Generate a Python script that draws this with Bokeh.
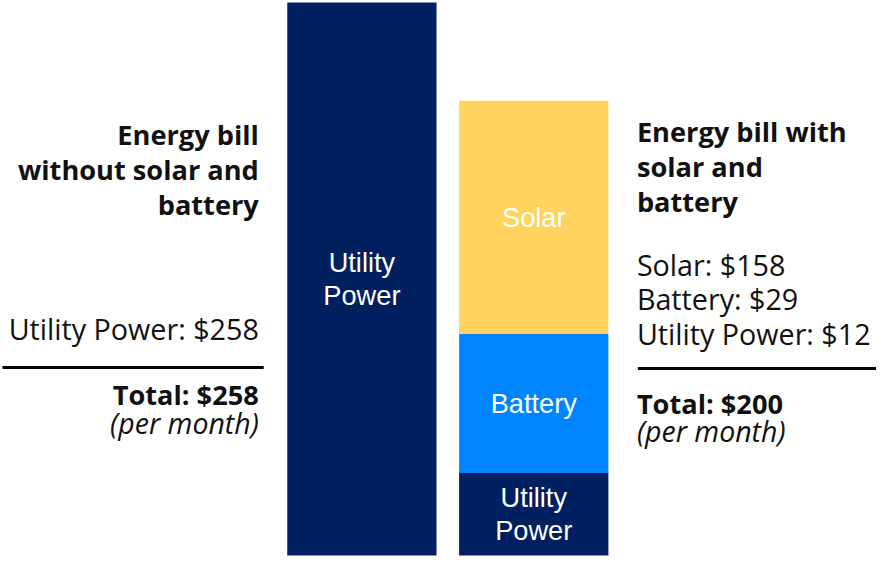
import numpy as np
from bokeh.plotting import figure
from bokeh.models import Range1d
from bokeh.core.properties import value
from bokeh.embed import file_html
from bokeh.resources import INLINE

# ---------------- data ----------------
categories = ["Without solar and battery", "With solar and battery"]
segments = ["Utility Power", "Battery", "Solar"]
# displayed segment heights as drawn in the picture (arbitrary units)
height_without = [258.0, 0.0, 0.0]
height_with = [38.5, 64.8, 108.8]
# dollar amounts per month
cost_without = [258]
cost_with = [158, 29, 12]          # Solar, Battery, Utility Power
cost_with_names = ["Solar", "Battery", "Utility Power"]
total_without = 258
total_with = 200
colors = ["#012060", "#0085FF", "#FFD35E"]
bar_labels = ["Utility\nPower", "Battery", "Solar"]

# ---------------- layout helpers (reference frame 892x572) ----------------
W, H = 876, 556
RW, RH = 892, 572
SY = H / RH
UNIT_PX = 175.0          # px between bar centres in the reference frame
Y_PX = 569.0 / 258.0     # px per height unit
X0, Y0 = 368.0, 571.0    # first bar centre / bar baseline in reference px

def X(px):
    return (px - X0) / UNIT_PX

def Y(py):
    return (Y0 - py) / Y_PX

def fs(px):
    return f"{px * SY:.1f}px"

p = figure(width=W, height=H, output_backend="svg", toolbar_location=None,
           x_range=Range1d(X(0), X(RW)), y_range=Range1d(Y(RH), Y(0)),
           min_border=0, outline_line_color=None,
           x_axis_location=None, y_axis_location=None)
p.xgrid.visible = False
p.ygrid.visible = False
p.background_fill_color = "white"
p.border_fill_color = "white"

bar_w = 152.0 / UNIT_PX
for i, heights in enumerate([height_without, height_with]):
    h = np.array(heights)
    tops = np.cumsum(h)
    bottoms = tops - h
    for j in range(len(segments)):
        if h[j] <= 0:
            continue
        p.vbar(x=[i], width=bar_w, bottom=[bottoms[j]], top=[tops[j]],
               fill_color=colors[j], line_color=None)
        p.text(x=[i], y=[(bottoms[j] + tops[j]) / 2], text=[bar_labels[j]],
               text_align="center", text_baseline="middle",
               text_font=value("Liberation Sans"), text_font_size=fs(28),
               text_color="white", text_line_height=1.08)

SIDE_FONT = value("Open Sans")
TXT = "#111111"
SIZES = {"normal": 29.5, "bold": 28.0, "italic": 29.3}

def put(px, py, s, align, style="normal"):
    size = SIZES[style]
    p.text(x=[X(px)], y=[Y(py - 0.37 * size)], text=[s], text_align=align,
           text_baseline="alphabetic", text_font=SIDE_FONT,
           text_font_size=fs(size), text_font_style=style, text_color=TXT)

# left block
LX = 263
for s, py in zip(["Energy bill", "without solar and", "battery"], [148, 184, 220]):
    put(LX, py, s, "right", "bold")
put(LX, 348, f"Utility Power: ${cost_without[0]}", "right")
p.segment(x0=[X(2)], y0=[Y(377.5)], x1=[X(268)], y1=[Y(377.5)],
          line_color="black", line_width=3)
put(LX, 416, f"Total: ${total_without}", "right", "bold")
put(LX, 446, "(per month)", "right", "italic")

# right block
RX = 648
for s, py in zip(["Energy bill with", "solar and", "battery"], [145, 181.5, 217]):
    put(RX, py, s, "left", "bold")
for name, c, py in zip(cost_with_names, cost_with, [283, 318, 353]):
    put(RX, py, f"{name}: ${c}", "left")
p.segment(x0=[X(649)], y0=[Y(378.5)], x1=[X(892)], y1=[Y(378.5)],
          line_color="black", line_width=3)
put(RX, 425, f"Total: ${total_with}", "left", "bold")
put(RX, 454, "(per month)", "left", "italic")

open("out.html", "w").write(file_html(p, INLINE))
